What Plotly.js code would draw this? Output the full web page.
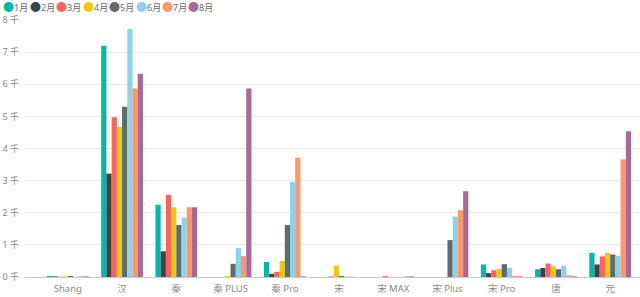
<!DOCTYPE html>
<html>
<head>
<meta charset="utf-8">
<script src="https://cdn.plot.ly/plotly-3.0.1.min.js"></script>
<style>html,body{margin:0;padding:0;background:#fff;}#chart{width:640px;height:297px;}</style>
</head>
<body>
<div id="chart"></div>
<script>
var categories = ["Shang", "汉", "秦", "秦 PLUS", "秦 Pro", "宋", "宋 MAX", "宋 Plus", "宋 Pro", "唐", "元"];
var months = ["1月", "2月", "3月", "4月", "5月", "6月", "7月", "8月"];
var colors = ["#01B8AA", "#374649", "#FD625E", "#F2C80F", "#5F6B6D", "#8AD4EB", "#FE9666", "#A66999"];
// values in thousands
var m1 = [0.03, 7.20, 2.25, 0.00, 0.47, 0.00, 0.00, 0.00, 0.39, 0.24, 0.75];
var m2 = [0.02, 3.22, 0.80, 0.00, 0.10, 0.00, 0.00, 0.00, 0.12, 0.28, 0.39];
var m3 = [0.01, 4.97, 2.56, 0.00, 0.16, 0.02, 0.03, 0.00, 0.21, 0.42, 0.64];
var m4 = [0.02, 4.67, 2.17, 0.03, 0.50, 0.35, 0.00, 0.00, 0.25, 0.33, 0.75];
var m5 = [0.03, 5.30, 1.62, 0.41, 1.62, 0.03, 0.00, 1.15, 0.40, 0.24, 0.70];
var m6 = [0.01, 7.72, 1.85, 0.90, 2.96, 0.01, 0.00, 1.88, 0.28, 0.35, 0.66];
var m7 = [0.02, 5.87, 2.17, 0.65, 3.71, 0.01, 0.02, 2.08, 0.03, 0.05, 3.66];
var m8 = [0.02, 6.33, 2.17, 5.87, 0.02, 0.00, 0.02, 2.67, 0.02, 0.02, 4.54];
var series = [m1, m2, m3, m4, m5, m6, m7, m8];
var yTickVals = [0, 1, 2, 3, 4, 5, 6, 7, 8];
var yTickText = ["0 千", "1 千", "2 千", "3 千", "4 千", "5 千", "6 千", "7 千", "8 千"];

var FONT = "'Noto Sans', 'Noto Sans CJK SC', sans-serif";
var traces = series.map(function (vals, i) {
  return {
    type: "bar",
    name: months[i],
    x: categories,
    y: vals,
    marker: {color: colors[i]},
    hoverinfo: "x+y+name"
  };
});

var L = 25, R = 0, T = 20, B = 20, W = 640, H = 297;
var pw = W - L - R, ph = H - T - B;
var annotations = months.map(function (m, i) {
  var px = 1 + i * 26.5;
  return {
    xref: "paper", yref: "paper",
    x: (px - L) / pw, y: 1 + (T - 7) / ph,
    xanchor: "left", yanchor: "middle",
    showarrow: false,
    text: '<span style="color:' + colors[i] + ';font-size:11px">●</span>' + m,
    font: {family: FONT, size: 9, color: "#6a6a6a"}
  };
});

var layout = {
  width: W, height: H,
  margin: {l: L, r: R, t: T, b: B, pad: 0},
  paper_bgcolor: "#fff", plot_bgcolor: "#fff",
  showlegend: false,
  barmode: "group",
  bargap: 0.23,
  bargroupgap: 0,
  font: {family: FONT, size: 10, color: "#888"},
  xaxis: {
    type: "category",
    range: [-0.79, 10.55],
    showgrid: false,
    showline: false,
    zeroline: false,
    tickfont: {family: FONT, size: 9.5, color: "#8a8a8a"},
    ticks: "", ticklabelstandoff: 4
  },
  yaxis: {
    range: [0, 8],
    tickvals: yTickVals,
    ticktext: yTickText,
    showgrid: true,
    gridcolor: "#eaeaea",
    gridwidth: 1,
    zeroline: true,
    zerolinecolor: "#c8c8c8",
    zerolinewidth: 1,
    showline: false,
    ticks: "",
    ticklabelstandoff: 5,
    tickfont: {family: FONT, size: 9, color: "#8a8a8a"}
  },
  annotations: annotations
};

Plotly.newPlot("chart", traces, layout, {displayModeBar: false, staticPlot: true});
</script>
</body>
</html>
